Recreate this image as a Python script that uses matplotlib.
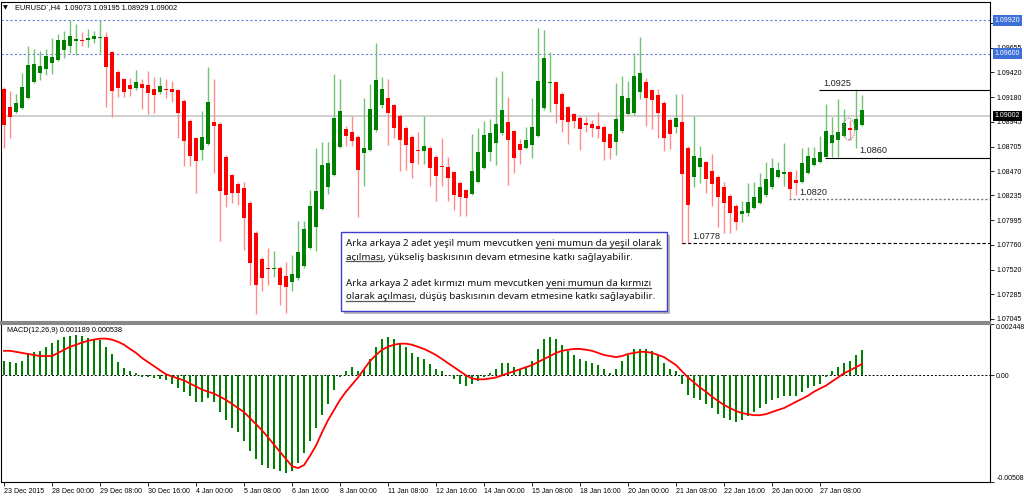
import matplotlib
matplotlib.use("Agg")
import matplotlib.pyplot as plt
import numpy as np
from matplotlib.patches import Rectangle, Ellipse
from matplotlib.transforms import blended_transform_factory
from matplotlib.lines import Line2D

plt.rcParams["font.family"] = ["Liberation Sans", "DejaVu Sans"]

# ---------------- data (EURUSD H4 candles) ----------------
opens = [1.09260, 1.09090, 1.09036, 1.09080, 1.09170, 1.09331, 1.09411, 1.09450, 1.09514, 1.09540,
         1.09636, 1.09678, 1.09722, 1.09732, 1.09732, 1.09739, 1.09755, 1.09764, 1.09620, 1.09427,
         1.09353, 1.09296, 1.09273, 1.09308, 1.09296, 1.09257, 1.09231, 1.09257, 1.09260, 1.09251,
         1.09145, 1.08955, 1.08788, 1.08673, 1.08731, 1.08939, 1.08923, 1.08609, 1.08429, 1.08345,
         1.08304, 1.08166, 1.07877, 1.07623, 1.07540, 1.07530, 1.07540, 1.07459, 1.07405, 1.07437,
         1.07559, 1.07732, 1.07935, 1.08105, 1.08313, 1.08432, 1.08705, 1.08875, 1.08843, 1.08801,
         1.08641, 1.08673, 1.08865, 1.09106, 1.09177, 1.09106, 1.09000, 1.08888, 1.08801, 1.08673,
         1.08666, 1.08695, 1.08602, 1.08519, 1.08512, 1.08458, 1.08358, 1.08288, 1.08249, 1.08361,
         1.08503, 1.08657, 1.08743, 1.08833, 1.08946, 1.08859, 1.08727, 1.08695, 1.08721, 1.08811,
         1.09074, 1.09315, 1.09324, 1.09212, 1.09090, 1.09019, 1.08984, 1.08930, 1.08923, 1.08904,
         1.08897, 1.08824, 1.08753, 1.08856, 1.09019, 1.09026, 1.09235, 1.09324, 1.09251, 1.09202,
         1.09122, 1.08962, 1.08891, 1.08939, 1.08695, 1.08416, 1.08512, 1.08557, 1.08474, 1.08410,
         1.08313, 1.08233, 1.08134, 1.08056, 1.08069, 1.08117, 1.08166, 1.08239, 1.08313, 1.08410,
         1.08438, 1.08458, 1.08384, 1.08361, 1.08448, 1.08528, 1.08560, 1.08609, 1.08737, 1.08769,
         1.08808, 1.08881, 1.08865, 1.08914]
highs = [1.09283, 1.09241, 1.09212, 1.09418, 1.09678, 1.09645, 1.09626, 1.09645, 1.09748, 1.09790,
         1.09822, 1.09925, 1.09886, 1.09806, 1.09838, 1.09822, 1.09925, 1.09806, 1.09630, 1.09440,
         1.09370, 1.09363, 1.09440, 1.09357, 1.09434, 1.09373, 1.09373, 1.09353, 1.09337, 1.09260,
         1.09160, 1.08970, 1.08800, 1.09052, 1.09469, 1.09357, 1.08940, 1.08620, 1.08440, 1.08360,
         1.08361, 1.08180, 1.07890, 1.07640, 1.07726, 1.07697, 1.07560, 1.07591, 1.07662, 1.07989,
         1.07989, 1.08288, 1.08695, 1.08747, 1.08747, 1.09405, 1.09357, 1.08907, 1.09000, 1.08820,
         1.09170, 1.09305, 1.09700, 1.09379, 1.09353, 1.09120, 1.09020, 1.08900, 1.08820, 1.08843,
         1.09003, 1.08710, 1.08620, 1.08785, 1.08609, 1.08470, 1.08370, 1.08300, 1.08824, 1.08881,
         1.08952, 1.08971, 1.09373, 1.09434, 1.09180, 1.08870, 1.08779, 1.08891, 1.09170, 1.09844,
         1.09828, 1.09613, 1.09340, 1.09230, 1.09100, 1.09030, 1.09000, 1.08987, 1.08962, 1.09042,
         1.08910, 1.08840, 1.09321, 1.09389, 1.09337, 1.09610, 1.09758, 1.09369, 1.09260, 1.09260,
         1.09140, 1.08980, 1.09209, 1.09209, 1.08710, 1.09000, 1.08711, 1.08570, 1.08631, 1.08430,
         1.08368, 1.08250, 1.08150, 1.08182, 1.08352, 1.08361, 1.08448, 1.08560, 1.08599, 1.08560,
         1.08737, 1.08470, 1.08480, 1.08689, 1.08705, 1.08698, 1.08811, 1.09113, 1.08994, 1.09161,
         1.09068, 1.08962, 1.09257, 1.09199]
lows = [1.08689, 1.08792, 1.09026, 1.09070, 1.09160, 1.09321, 1.09347, 1.09395, 1.09402, 1.09530,
        1.09556, 1.09604, 1.09588, 1.09674, 1.09668, 1.09700, 1.09604, 1.09090, 1.08987, 1.09180,
        1.09186, 1.09196, 1.09251, 1.09068, 1.09016, 1.09032, 1.09212, 1.09177, 1.09138, 1.08785,
        1.08519, 1.08519, 1.08262, 1.08576, 1.08720, 1.08448, 1.07800, 1.08121, 1.08166, 1.08143,
        1.07710, 1.07373, 1.07090, 1.07315, 1.07373, 1.07453, 1.07180, 1.07106, 1.07318, 1.07420,
        1.07540, 1.07720, 1.07703, 1.08090, 1.08246, 1.08420, 1.08690, 1.08714, 1.08711, 1.08024,
        1.08329, 1.08660, 1.08850, 1.09074, 1.08721, 1.08792, 1.08471, 1.08480, 1.08406, 1.08535,
        1.08538, 1.08326, 1.08185, 1.08329, 1.08185, 1.08095, 1.08040, 1.08040, 1.08240, 1.08350,
        1.08490, 1.08570, 1.08528, 1.08820, 1.08336, 1.08448, 1.08535, 1.08680, 1.08599, 1.08800,
        1.09060, 1.09042, 1.08936, 1.08849, 1.08731, 1.08888, 1.08673, 1.08849, 1.08801, 1.08792,
        1.08576, 1.08583, 1.08625, 1.08840, 1.09010, 1.09010, 1.09161, 1.08907, 1.08872, 1.08785,
        1.08663, 1.08679, 1.08840, 1.07768, 1.07774, 1.08320, 1.08358, 1.08262, 1.08134, 1.07928,
        1.07877, 1.07877, 1.07902, 1.07976, 1.08040, 1.08100, 1.08150, 1.08220, 1.08300, 1.08400,
        1.08329, 1.08207, 1.08239, 1.08350, 1.08440, 1.08520, 1.08550, 1.08602, 1.08602, 1.08602,
        1.08800, 1.08769, 1.08689, 1.08900]
closes = [1.08914, 1.08987, 1.09122, 1.09276, 1.09491, 1.09501, 1.09482, 1.09581, 1.09565, 1.09732,
          1.09732, 1.09771, 1.09739, 1.09722, 1.09748, 1.09771, 1.09764, 1.09475, 1.09241, 1.09273,
          1.09235, 1.09260, 1.09331, 1.09267, 1.09225, 1.09202, 1.09289, 1.09251, 1.09235, 1.09026,
          1.08763, 1.08618, 1.08567, 1.08801, 1.09135, 1.08904, 1.08281, 1.08239, 1.08262, 1.08256,
          1.08021, 1.07581, 1.07373, 1.07443, 1.07530, 1.07540, 1.07373, 1.07357, 1.07479, 1.07694,
          1.07912, 1.08137, 1.08281, 1.08528, 1.08551, 1.08984, 1.09048, 1.08811, 1.08763, 1.08480,
          1.08695, 1.09068, 1.09347, 1.09257, 1.09026, 1.08888, 1.08769, 1.08721, 1.08544, 1.08666,
          1.08714, 1.08496, 1.08422, 1.08509, 1.08400, 1.08239, 1.08223, 1.08207, 1.08471, 1.08650,
          1.08817, 1.08840, 1.08923, 1.09058, 1.08769, 1.08599, 1.08673, 1.08769, 1.08897, 1.09337,
          1.09556, 1.09331, 1.09113, 1.08962, 1.08939, 1.08952, 1.08875, 1.08914, 1.08881, 1.08875,
          1.08747, 1.08689, 1.08971, 1.09193, 1.09170, 1.09385, 1.09411, 1.09170, 1.09154, 1.09026,
          1.08785, 1.08827, 1.08978, 1.08442, 1.08143, 1.08618, 1.08599, 1.08394, 1.08342, 1.08217,
          1.08159, 1.08069, 1.07983, 1.08085, 1.08169, 1.08223, 1.08320, 1.08394, 1.08496, 1.08480,
          1.08464, 1.08297, 1.08358, 1.08544, 1.08615, 1.08592, 1.08657, 1.08859, 1.08817, 1.08843,
          1.08930, 1.08865, 1.08968, 1.09058]

macd_hist = [0.00070, 0.00063, 0.00058, 0.00070, 0.00102, 0.00112, 0.00117, 0.00136, 0.00156, 0.00170,
             0.00185, 0.00187, 0.00190, 0.00187, 0.00180, 0.00175, 0.00170, 0.00136, 0.00102, 0.00063,
             0.00034, 0.00019, 0.00010, -0.00010, -0.00010, -0.00015, -0.00019, -0.00024, -0.00039, -0.00058,
             -0.00078, -0.00097, -0.00126, -0.00126, -0.00107, -0.00126, -0.00175, -0.00214, -0.00253, -0.00272,
             -0.00311, -0.00360, -0.00399, -0.00428, -0.00442, -0.00447, -0.00457, -0.00467, -0.00457, -0.00418,
             -0.00369, -0.00311, -0.00253, -0.00190, -0.00136, -0.00068, -0.00010, 0.00019, 0.00039, 0.00019,
             0.00029, 0.00078, 0.00136, 0.00175, 0.00185, 0.00175, 0.00156, 0.00136, 0.00107, 0.00087,
             0.00078, 0.00053, 0.00029, 0.00019, 0.00000, -0.00019, -0.00039, -0.00049, -0.00039, -0.00029,
             -0.00010, 0.00010, 0.00029, 0.00058, 0.00058, 0.00039, 0.00029, 0.00039, 0.00068, 0.00126,
             0.00175, 0.00185, 0.00175, 0.00146, 0.00117, 0.00097, 0.00078, 0.00068, 0.00058, 0.00049,
             0.00029, 0.00010, 0.00029, 0.00068, 0.00097, 0.00126, 0.00126, 0.00126, 0.00117, 0.00097,
             0.00058, 0.00029, 0.00019, -0.00039, -0.00092, -0.00107, -0.00117, -0.00136, -0.00156, -0.00185,
             -0.00204, -0.00214, -0.00224, -0.00214, -0.00194, -0.00175, -0.00156, -0.00136, -0.00117, -0.00107,
             -0.00097, -0.00097, -0.00097, -0.00078, -0.00058, -0.00049, -0.00039, -0.00010, 0.00019, 0.00039,
             0.00058, 0.00068, 0.00097, 0.00119]
macd_signal = [0.00117, 0.00117, 0.00112, 0.00107, 0.00102, 0.00097, 0.00092, 0.00092, 0.00092, 0.00107,
               0.00122, 0.00136, 0.00146, 0.00156, 0.00165, 0.00170, 0.00175, 0.00175, 0.00170, 0.00160,
               0.00146, 0.00126, 0.00107, 0.00083, 0.00063, 0.00044, 0.00024, 0.00005, -0.00005, -0.00015,
               -0.00024, -0.00039, -0.00053, -0.00068, -0.00078, -0.00087, -0.00102, -0.00117, -0.00136, -0.00156,
               -0.00175, -0.00204, -0.00233, -0.00262, -0.00296, -0.00330, -0.00365, -0.00399, -0.00433, -0.00442,
               -0.00428, -0.00384, -0.00335, -0.00272, -0.00214, -0.00165, -0.00117, -0.00078, -0.00044, -0.00010,
               0.00029, 0.00068, 0.00097, 0.00122, 0.00136, 0.00146, 0.00151, 0.00151, 0.00146, 0.00136,
               0.00126, 0.00112, 0.00097, 0.00078, 0.00058, 0.00039, 0.00019, 0.00000, -0.00015, -0.00019,
               -0.00019, -0.00015, -0.00010, 0.00000, 0.00010, 0.00019, 0.00029, 0.00039, 0.00049, 0.00063,
               0.00078, 0.00092, 0.00107, 0.00117, 0.00122, 0.00126, 0.00126, 0.00122, 0.00117, 0.00107,
               0.00097, 0.00092, 0.00087, 0.00092, 0.00102, 0.00107, 0.00112, 0.00112, 0.00107, 0.00097,
               0.00087, 0.00068, 0.00049, 0.00019, -0.00010, -0.00034, -0.00058, -0.00078, -0.00102, -0.00122,
               -0.00141, -0.00156, -0.00170, -0.00180, -0.00185, -0.00190, -0.00190, -0.00185, -0.00175, -0.00165,
               -0.00156, -0.00141, -0.00126, -0.00112, -0.00097, -0.00078, -0.00063, -0.00049, -0.00029, -0.00010,
               0.00010, 0.00024, 0.00039, 0.00054]

date_labels = ["23 Dec 2015", "28 Dec 00:00", "29 Dec 08:00", "30 Dec 16:00", "4 Jan 00:00",
               "5 Jan 08:00", "6 Jan 16:00", "8 Jan 00:00", "11 Jan 08:00", "12 Jan 16:00",
               "14 Jan 00:00", "15 Jan 08:00", "18 Jan 16:00", "20 Jan 00:00", "21 Jan 08:00",
               "22 Jan 16:00", "26 Jan 00:00", "27 Jan 08:00"]
date_label_bars = [0, 8, 16, 24, 32, 40, 48, 56, 64, 72, 80, 88, 96, 104, 112, 120, 128, 136]

price_ticks = [1.09895, 1.09655, 1.09420, 1.09180, 1.08945, 1.08705, 1.08470,
               1.08235, 1.07995, 1.07760, 1.07520, 1.07285, 1.07045]
highlight_levels = [1.09920, 1.09600]
current_price = 1.09002
# support / resistance annotations: (level, start bar, label bar)
levels = [1.0925, 1.0860, 1.0820, 1.0778]
level_start = [135.8, 136.8, 130.8, 113.0]
level_text_bar = [136.5, 142.5, 132.5, 114.7]

macd_top, macd_bottom = 0.002448, -0.005085
title_main = "EURUSD`,H4  1.09073 1.09195 1.08929 1.09002"
title_macd = "MACD(12,26,9) 0.001189 0.000538"

box_lines = [
    [("Arka arkaya 2 adet yeşil mum mevcutken ", False), ("yeni mumun da yeşil olarak", True)],
    [("açılması", True), (", yükseliş baskısının devam etmesine katkı sağlayabilir.", False)],
    None,
    [("Arka arkaya 2 adet kırmızı mum mevcutken ", False), ("yeni mumun da kırmızı", True)],
    [("olarak açılması", True), (", düşüş baskısının devam etmesine katkı sağlayabilir.", False)],
]

# ---------------- figure ----------------
W, H = 1024, 499
fig = plt.figure(figsize=(W / 100, H / 100), dpi=100)
fig.patch.set_facecolor("white")


def fx(px):
    return px / W


def fy(py):
    return 1 - py / H


ax = fig.add_axes([fx(1), fy(322), fx(990) - fx(1), fy(2) - fy(322)])
ax2 = fig.add_axes([fx(1), fy(482), fx(990) - fx(1), fy(324) - fy(482)])

n = len(opens)
xs = np.arange(n)
XL = (-0.5, 164.33)

GREEN, GREEN_W = "#008000", "#72c272"
RED, RED_W = "#ff0000", "#ff8a8a"

for i in range(n):
    o, h, l, c = opens[i], highs[i], lows[i], closes[i]
    up = c >= o
    ax.vlines(i, l, h, color=GREEN_W if up else RED_W, lw=1.0, zorder=3)
    bh = max(abs(c - o), 0.00008)
    ax.add_patch(Rectangle((i - 0.28, min(o, c)), 0.56, bh,
                           facecolor=GREEN if up else RED, edgecolor="none", zorder=4))

ax.set_xlim(*XL)
ax.set_ylim(1.07016, 1.10098)

for lv in highlight_levels:
    ax.axhline(lv, color="#6680e0", lw=0.8, ls=(0, (2, 2)), zorder=1)
ax.axhline(current_price, color="#cccccc", lw=1.3, zorder=1)

styles = [dict(color="#000000", lw=0.8, ls="-"),
          dict(color="#000000", lw=0.8, ls="-"),
          dict(color="#777777", lw=1.0, ls=(0, (1.5, 1.5))),
          dict(color="#000000", lw=0.8, ls=(0, (3, 2)))]
for lv, xs0, xt, st in zip(levels, level_start, level_text_bar, styles):
    ax.hlines(lv, xs0, XL[1], zorder=5, **st)
    ax.text(xt, lv + 0.0002, f"{lv:.4f}", fontsize=6.6, color="#222222",
            ha="left", va="bottom", zorder=6)

ax.add_patch(Ellipse((140.8, 1.08875), 2.0, 0.0021, fill=False, ec="#888888",
                     lw=0.8, ls=(0, (1, 1)), zorder=6))

TICKFS = 5.0
ax.set_xticks([])
ax.yaxis.tick_right()
ax.set_yticks(price_ticks)
ax.set_yticklabels([f"{p:.5f}" for p in price_ticks])
ax.tick_params(axis="y", length=3, width=0.6, labelsize=TICKFS, pad=1.5, colors="#000000")
for s in ax.spines.values():
    s.set_color("#000000")
    s.set_linewidth(0.8)
ax.spines["bottom"].set_color("#888888")
ax.spines["bottom"].set_linewidth(1.5)

bt = blended_transform_factory(ax.transAxes, ax.transData)
for lv, bg in [(highlight_levels[0], "#3d6fd9"), (highlight_levels[1], "#3d6fd9"), (current_price, "#000000")]:
    ax.text(1.0048, lv, f"{lv:.5f}", transform=bt, fontsize=TICKFS, color="white",
            va="center", ha="left", clip_on=False, zorder=10,
            bbox=dict(boxstyle="square,pad=0.25", fc=bg, ec="none"))

fig.text(fx(3), fy(8), "▼", fontsize=4.5, va="center", ha="left", family="DejaVu Sans")
fig.text(fx(15), fy(8), title_main, fontsize=5.3, va="center", ha="left")

# ---------------- MACD ----------------
ax2.bar(xs, macd_hist, width=0.36, color=GREEN, zorder=2)
ax2.plot(xs, macd_signal, color=RED, lw=1.3, zorder=3)
ax2.axhline(0, color="#000000", lw=0.7, ls=(0, (2, 2)), zorder=1)
ax2.set_xlim(*XL)
ax2.set_ylim(macd_bottom, macd_top)
ax2.yaxis.tick_right()
ax2.set_yticks([macd_top, 0, macd_bottom])
ax2.set_yticklabels(["0.002448", "0.00", "-0.005085"])
labs = ax2.get_yticklabels()
labs[0].set_va("top")
labs[2].set_va("bottom")
ax2.tick_params(axis="y", length=3, width=0.6, labelsize=TICKFS, pad=1.5)
ax2.set_xticks(date_label_bars)
ax2.set_xticklabels(date_labels)
for lab in ax2.get_xticklabels():
    lab.set_ha("left")
ax2.tick_params(axis="x", length=3, width=0.6, labelsize=TICKFS, pad=1.0)
for s in ax2.spines.values():
    s.set_color("#000000")
    s.set_linewidth(0.8)
ax2.spines["top"].set_color("#888888")
ax2.spines["top"].set_linewidth(1.5)
fig.text(fx(7), fy(330), title_macd, fontsize=5.2, va="center", ha="left")

# ---------------- text box ----------------
bl, btp, br, bb = 341, 232, 667, 311
fig.add_artist(Rectangle((fx(bl + 3), fy(bb + 3)), fx(br) - fx(bl), fy(btp) - fy(bb),
                         transform=fig.transFigure, fc="#9a9a9a", ec="none", alpha=0.7, zorder=20))
fig.add_artist(Rectangle((fx(bl), fy(bb)), fx(br) - fx(bl), fy(btp) - fy(bb),
                         transform=fig.transFigure, fc="white", ec="#3c3ccf", lw=1.0, zorder=21))

fig.canvas.draw()
renderer = fig.canvas.get_renderer()
FAM = "Noto Sans"


def width_px(s, size):
    t = fig.text(0, 0, s, fontsize=size, family=FAM)
    w = t.get_window_extent(renderer).width
    t.remove()
    return w


first = "".join(seg for seg, _ in box_lines[0])
fsize = 8.0 * 316.0 / width_px(first, 8.0)

line_y = [243.5, 257.0, None, 283.5, 296.5]
x0 = 346
for segs, ly in zip(box_lines, line_y):
    if segs is None:
        continue
    full = "".join(s for s, _ in segs)
    fig.text(fx(x0), fy(ly), full, fontsize=fsize, family=FAM, color="#111111",
             va="center", ha="left", zorder=22)
    prefix = ""
    for seg, ul in segs:
        prefix += seg
        if ul:
            end = width_px(prefix, fsize)
            start = end - width_px(seg, fsize)
            fig.add_artist(Line2D([fx(x0 + start), fx(x0 + end)], [fy(ly + 4.2), fy(ly + 4.2)],
                                  transform=fig.transFigure, color="#555555", lw=0.9, zorder=23))

fig.savefig("out.png", dpi=100, facecolor="white")
